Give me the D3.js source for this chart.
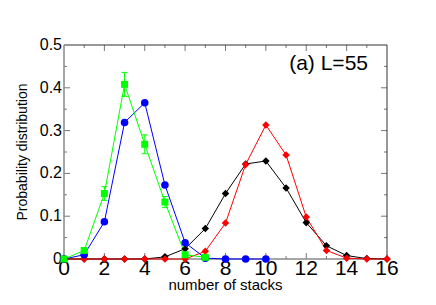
<!DOCTYPE html>
<html>
<head>
<meta charset="utf-8">
<script src="https://cdn.jsdelivr.net/npm/d3@7"></script>
<style>
  body { margin: 0; background: #fff; }
  text { font-family: "Liberation Sans", Arial, sans-serif; }
</style>
</head>
<body>
<script>
// number of stacks (x)
var stacks = [0, 1, 2, 3, 4, 5, 6, 7, 8, 9, 10, 11, 12, 13, 14, 15, 16];

// green squares with error bars
var greenX = [0, 1, 2, 3, 4, 5, 6, 7];
var greenY = [0, 0.02, 0.153, 0.408, 0.268, 0.133, 0.01, 0.004];
var greenErr = [0, 0.004, 0.016, 0.028, 0.022, 0.013, 0.004, 0.002];

// blue circles
var blueX = [0, 1, 2, 3, 4, 5, 6, 7, 8, 9, 10];
var blueY = [0, 0.01, 0.087, 0.319, 0.365, 0.173, 0.038, 0.002, 0, 0, 0];

// black diamonds
var blackY = [0, 0, 0, 0, 0, 0.005, 0.024, 0.071, 0.153, 0.222, 0.229, 0.166, 0.085, 0.031, 0.008, 0.001, 0];

// red diamonds
var redY = [0, 0, 0, 0, 0, 0, 0, 0.018, 0.084, 0.221, 0.313, 0.243, 0.098, 0.02, 0.002, 0, 0];

var xTicks = [0, 2, 4, 6, 8, 10, 12, 14, 16];
var yTicks = [0, 0.1, 0.2, 0.3, 0.4, 0.5];
var yTickLabels = ["0", "0.1", "0.2", "0.3", "0.4", "0.5"];

var width = 436, height = 305;
var margin = { left: 64, right: 49, top: 45, bottom: 46 };

var x = d3.scaleLinear().domain([0, 16]).range([margin.left, width - margin.right]);
var y = d3.scaleLinear().domain([0, 0.5]).range([height - margin.bottom, margin.top]);

var svg = d3.select("body").append("svg")
  .attr("width", width)
  .attr("height", height);

var x0 = x(0), x1 = x(16), y0 = y(0), y1 = y(0.5);

// ticks, inward on all four sides
var minorX = d3.range(1, 16, 2);
var minorY = d3.range(0.05, 0.5, 0.1);
var tickG = svg.append("g").attr("stroke", "#777").attr("stroke-width", 1);
xTicks.slice(1, -1).forEach(function(v) {
  tickG.append("line").attr("x1", x(v)).attr("x2", x(v)).attr("y1", y0).attr("y2", y0 - 6);
  tickG.append("line").attr("x1", x(v)).attr("x2", x(v)).attr("y1", y1).attr("y2", y1 + 6);
});
minorX.forEach(function(v) {
  tickG.append("line").attr("x1", x(v)).attr("x2", x(v)).attr("y1", y0).attr("y2", y0 - 3);
  tickG.append("line").attr("x1", x(v)).attr("x2", x(v)).attr("y1", y1).attr("y2", y1 + 3);
});
yTicks.slice(1, -1).forEach(function(v) {
  tickG.append("line").attr("x1", x0).attr("x2", x0 + 6).attr("y1", y(v)).attr("y2", y(v));
  tickG.append("line").attr("x1", x1).attr("x2", x1 - 6).attr("y1", y(v)).attr("y2", y(v));
});
minorY.forEach(function(v) {
  tickG.append("line").attr("x1", x0).attr("x2", x0 + 3).attr("y1", y(v)).attr("y2", y(v));
  tickG.append("line").attr("x1", x1).attr("x2", x1 - 3).attr("y1", y(v)).attr("y2", y(v));
});

// frame
svg.append("line").attr("x1", x0).attr("x2", x1).attr("y1", y1).attr("y2", y1).attr("stroke", "#333");
svg.append("line").attr("x1", x1).attr("x2", x1).attr("y1", y1).attr("y2", y0).attr("stroke", "#333");
svg.append("line").attr("x1", x0).attr("x2", x0).attr("y1", y1).attr("y2", y0).attr("stroke", "#888").attr("stroke-width", 1.5);
svg.append("line").attr("x1", x0).attr("x2", x1).attr("y1", y0).attr("y2", y0).attr("stroke", "#888").attr("stroke-width", 1.5);

// tick labels
svg.append("g").selectAll("text").data(xTicks).enter().append("text")
  .attr("x", function(d) { return x(d); })
  .attr("y", y0 + 16)
  .attr("text-anchor", "middle")
  .style("font-size", "21px")
  .text(function(d) { return d; });

svg.append("g").selectAll("text").data(yTicks).enter().append("text")
  .attr("x", x0 - 2)
  .attr("y", function(d) { return y(d) + 5; })
  .attr("text-anchor", "end")
  .style("font-size", "16px")
  .text(function(d, i) { return yTickLabels[i]; });

// axis titles
svg.append("text")
  .attr("x", (x0 + x1) / 2)
  .attr("y", 290)
  .attr("text-anchor", "middle")
  .style("font-size", "15px")
  .text("number of stacks");

svg.append("text")
  .attr("transform", "translate(27," + ((y0 + y1) / 2) + ") rotate(-90)")
  .attr("text-anchor", "middle")
  .style("font-size", "14px")
  .text("Probability distribution");

svg.append("text")
  .attr("x", 368)
  .attr("y", 70)
  .attr("text-anchor", "end")
  .style("font-size", "21px")
  .text("(a) L=55");

var line = d3.line()
  .x(function(d) { return x(d[0]); })
  .y(function(d) { return y(d[1]); });

function series(xs, ys, color) {
  var pts = xs.map(function(v, i) { return [v, ys[i]]; });
  svg.append("path")
    .datum(pts)
    .attr("d", line)
    .attr("fill", "none")
    .attr("stroke", color)
    .attr("stroke-width", 1);
  return pts;
}

var blackPts = series(stacks, blackY, "#000");
var redPts = series(stacks, redY, "#ff0000");
var bluePts = series(blueX, blueY, "#0000ff");
var greenPts = series(greenX, greenY, "#00ff00");

var diamond = d3.symbol().type(d3.symbolDiamond2).size(36);

svg.append("g").selectAll("path").data(blackPts).enter().append("path")
  .attr("d", diamond)
  .attr("transform", function(d) { return "translate(" + x(d[0]) + "," + y(d[1]) + ")"; })
  .attr("fill", "#000");

svg.append("g").selectAll("path").data(redPts).enter().append("path")
  .attr("d", diamond)
  .attr("transform", function(d) { return "translate(" + x(d[0]) + "," + y(d[1]) + ")"; })
  .attr("fill", "#ff0000");

svg.append("g").selectAll("circle").data(bluePts).enter().append("circle")
  .attr("cx", function(d) { return x(d[0]); })
  .attr("cy", function(d) { return y(d[1]); })
  .attr("r", 3.8)
  .attr("fill", "#0000ff");

// green error bars
var errG = svg.append("g").attr("stroke", "#00ff00").attr("stroke-width", 1);
greenX.forEach(function(v, i) {
  var e = greenErr[i];
  if (!e) return;
  var cx = x(v), top = y(greenY[i] + e), bot = y(greenY[i] - e);
  errG.append("line").attr("x1", cx).attr("x2", cx).attr("y1", top).attr("y2", bot);
  errG.append("line").attr("x1", cx - 3).attr("x2", cx + 3).attr("y1", top).attr("y2", top);
  errG.append("line").attr("x1", cx - 3).attr("x2", cx + 3).attr("y1", bot).attr("y2", bot);
});

svg.append("g").selectAll("rect").data(greenPts).enter().append("rect")
  .attr("x", function(d) { return x(d[0]) - 3.5; })
  .attr("y", function(d) { return y(d[1]) - 3.5; })
  .attr("width", 7)
  .attr("height", 7)
  .attr("fill", "#00ff00");
</script>
</body>
</html>
